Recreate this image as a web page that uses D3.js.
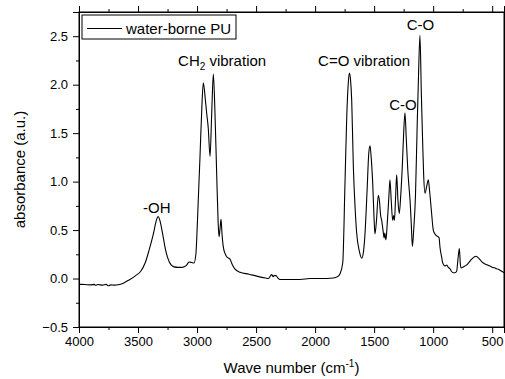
<!DOCTYPE html>
<html>
<head>
<meta charset="utf-8">
<script src="https://cdn.jsdelivr.net/npm/d3@7"></script>
<style>
    body { margin: 0; background: #fff; }
    svg text { font-family: "Liberation Sans", Arial, sans-serif; fill: #000; }
</style>
</head>
<body>
<div id="chart"></div>
<script>
// spectrum (wave number in cm-1, absorbance in a.u.)
const wavenumbers = [
    4000, 3950, 3900, 3870, 3860, 3840, 3800, 3770, 3750, 3730, 3700, 3660, 3620, 3576, 3520, 3477,
    3440, 3407, 3370, 3345, 3330, 3315, 3290, 3266, 3235, 3195, 3160, 3125, 3090, 3068, 3045, 3026,
    3010, 3003, 2990, 2975, 2960, 2947, 2930, 2918, 2905, 2890, 2876, 2862, 2848, 2834, 2822, 2814,
    2805, 2797, 2788, 2778, 2760, 2749, 2721, 2700, 2680, 2636, 2560, 2495, 2420, 2396, 2368, 2355,
    2348, 2331, 2315, 2297, 2200, 2128, 2043, 1900, 1846, 1810, 1789, 1766, 1747, 1732, 1720, 1710,
    1700, 1690, 1676, 1660, 1648, 1625, 1605, 1590, 1577, 1560, 1545, 1535, 1525, 1512, 1500, 1493,
    1480, 1465, 1455, 1445, 1436, 1425, 1415, 1410, 1400, 1390, 1375, 1366, 1355, 1343, 1335, 1328,
    1318, 1309, 1298, 1287, 1275, 1260, 1250, 1239, 1228, 1215, 1205, 1196, 1185, 1176, 1165, 1150,
    1135, 1125, 1112, 1100, 1090, 1080, 1069, 1055, 1041, 1030, 1015, 999, 985, 970, 957, 950,
    942, 928, 919, 900, 885, 872, 857, 843, 829, 815, 801, 790, 778, 770, 764, 745,
    716, 695, 674, 650, 637, 620, 600, 575, 540, 504, 470, 448, 420, 400
];
const absorbance = [
    -0.06, -0.062, -0.065, -0.06, -0.07, -0.062, -0.068, -0.06, -0.075, -0.065, -0.068, -0.062, -0.045, -0.015, 0.03, 0.075,
    0.16, 0.29, 0.46, 0.6, 0.64, 0.6, 0.45, 0.29, 0.17, 0.12, 0.115, 0.115, 0.135, 0.17, 0.165, 0.16,
    0.25, 0.4, 0.8, 1.26, 1.75, 2.02, 1.85, 1.7, 1.55, 1.26, 1.7, 2.11, 1.7, 1.09, 0.6, 0.43,
    0.52, 0.61, 0.45, 0.33, 0.25, 0.225, 0.2, 0.14, 0.1, 0.065, 0.045, 0.025, 0.005, 0.0, 0.04, 0.02,
    0.03, 0.03, 0.005, -0.01, -0.01, -0.01, 0.0, 0.0, 0.005, 0.02, 0.05, 0.16, 0.98, 1.67, 2.0, 2.12,
    2.05, 1.84, 1.15, 0.7, 0.47, 0.28, 0.21, 0.28, 0.47, 0.9, 1.3, 1.37, 1.25, 0.98, 0.6, 0.46,
    0.6, 0.86, 0.8, 0.65, 0.6, 0.5, 0.42, 0.47, 0.4, 0.55, 0.85, 1.02, 0.8, 0.6, 0.65, 0.6,
    0.85, 1.07, 0.8, 0.67, 0.85, 1.2, 1.5, 1.71, 1.45, 1.12, 0.95, 0.81, 0.55, 0.33, 0.5, 0.85,
    1.6, 2.05, 2.51, 1.9, 1.45, 1.05, 0.88, 0.95, 1.02, 0.9, 0.7, 0.5, 0.46, 0.44, 0.43, 0.42,
    0.32, 0.22, 0.16, 0.13, 0.14, 0.115, 0.1, 0.07, 0.06, 0.06, 0.075, 0.2, 0.31, 0.15, 0.11, 0.12,
    0.14, 0.17, 0.2, 0.225, 0.23, 0.215, 0.19, 0.16, 0.14, 0.12, 0.105, 0.095, 0.075, 0.06
];

// axis ticks
const xTicks = [4000, 3500, 3000, 2500, 2000, 1500, 1000, 500];
const xMinorTicks = [3750, 3250, 2750, 2250, 1750, 1250, 750];
const yTicks = [-0.5, 0.0, 0.5, 1.0, 1.5, 2.0, 2.5];
const yMinorTicks = [-0.25, 0.25, 0.75, 1.25, 1.75, 2.25, 2.75];

// peak annotations: text, start wave number, baseline absorbance, subscript part
const labelText = ["-OH", "CH", "C=O vibration", "C-O", "C-O"];
const labelSub = ["", "2", "", "", ""];
const labelRest = ["", " vibration", "", "", ""];
const labelWave = [3458, 3161, 1975, 1224, 1372];
const labelAbs = [0.68, 2.19, 2.19, 2.564, 1.739];

const seriesName = "water-borne PU";

class SpectrumVis {
    constructor(_parentElement) {
        this.parentElement = _parentElement;
        this.data = wavenumbers.map((w, i) => ({ wn: w, abs: absorbance[i] }));
        this.initVis();
    }

    initVis() {
        const vis = this;

        vis.margin = { top: 12, right: 1, bottom: 52, left: 79 };
        vis.width = 505 - vis.margin.left - vis.margin.right;
        vis.height = 379 - vis.margin.top - vis.margin.bottom;

        vis.svgRoot = d3.select(`#${vis.parentElement}`)
            .append("svg")
            .attr("width", 505)
            .attr("height", 379);

        vis.svg = vis.svgRoot.append("g")
            .attr("transform", `translate(${vis.margin.left},${vis.margin.top})`);

        // reversed wave number axis
        vis.xScale = d3.scaleLinear().domain([4000, 400]).range([0, vis.width]);
        vis.yScale = d3.scaleLinear().domain([-0.5, 2.75]).range([vis.height, 0]);

        const fmt = d3.format(".1f");

        // bottom axis (major + minor)
        vis.svg.append("g")
            .attr("class", "axis")
            .attr("transform", `translate(0,${vis.height})`)
            .call(d3.axisBottom(vis.xScale).tickValues(xTicks).tickSize(6).tickPadding(4).tickFormat(d3.format("d")));
        vis.svg.append("g")
            .attr("class", "axis")
            .attr("transform", `translate(0,${vis.height})`)
            .call(d3.axisBottom(vis.xScale).tickValues(xMinorTicks).tickSize(3).tickFormat(""));

        // top axis, ticks only
        vis.svg.append("g")
            .attr("class", "axis")
            .call(d3.axisTop(vis.xScale).tickValues(xTicks).tickSize(6).tickFormat(""));
        vis.svg.append("g")
            .attr("class", "axis")
            .call(d3.axisTop(vis.xScale).tickValues(xMinorTicks).tickSize(3).tickFormat(""));

        // left axis
        vis.svg.append("g")
            .attr("class", "axis")
            .call(d3.axisLeft(vis.yScale).tickValues(yTicks).tickSize(6).tickPadding(5).tickFormat(fmt));
        vis.svg.append("g")
            .attr("class", "axis")
            .call(d3.axisLeft(vis.yScale).tickValues(yMinorTicks.filter(v => v < 2.75)).tickSize(3).tickFormat(""));

        // right axis
        vis.svg.append("g")
            .attr("class", "axis")
            .attr("transform", `translate(${vis.width},0)`)
            .call(d3.axisRight(vis.yScale).tickValues(yTicks).tickSize(6).tickFormat(""));

        vis.svg.selectAll(".axis path").attr("stroke", "#000");
        vis.svg.selectAll(".axis line").attr("stroke", "#000");
        vis.svg.selectAll(".axis text").attr("font-size", "13px").attr("font-family", "Liberation Sans, Arial, sans-serif").attr("fill", "#000");

        // frame
        vis.svg.append("rect")
            .attr("x", 0)
            .attr("y", 0)
            .attr("width", vis.width)
            .attr("height", vis.height)
            .attr("fill", "none")
            .attr("stroke", "#000")
            .attr("stroke-width", 1);

        // axis titles
        const xTitle = vis.svg.append("text")
            .attr("text-anchor", "middle")
            .attr("x", vis.width / 2)
            .attr("y", vis.height + 46)
            .attr("font-size", "15px");
        xTitle.append("tspan").text("Wave number (cm");
        xTitle.append("tspan").attr("dy", -6).attr("font-size", "10px").text("-1");
        xTitle.append("tspan").attr("dy", 6).text(")");

        vis.svg.append("text")
            .attr("text-anchor", "middle")
            .attr("transform", "rotate(-90)")
            .attr("x", -vis.height / 2)
            .attr("y", -54)
            .attr("font-size", "15px")
            .text("absorbance (a.u.)");

        // legend
        const legend = vis.svg.append("g").attr("transform", "translate(3,3)");
        legend.append("rect")
            .attr("width", 154)
            .attr("height", 24)
            .attr("fill", "#fff")
            .attr("stroke", "#000");
        legend.append("line")
            .attr("x1", 5).attr("x2", 40)
            .attr("y1", 13.5).attr("y2", 13.5)
            .attr("stroke", "#000");
        legend.append("text")
            .attr("x", 44)
            .attr("y", 18.5)
            .attr("font-size", "15px")
            .text(seriesName);

        vis.updateVis();
    }

    updateVis() {
        const vis = this;

        const line = d3.line()
            .x(d => vis.xScale(d.wn))
            .y(d => vis.yScale(d.abs))
            .curve(d3.curveMonotoneX);

        vis.svg.append("path")
            .datum(vis.data)
            .attr("d", line)
            .attr("fill", "none")
            .attr("stroke", "#000")
            .attr("stroke-width", 1.1)
            .attr("stroke-linejoin", "round");

        // peak labels
        labelText.forEach((t, i) => {
            const txt = vis.svg.append("text")
                .attr("x", vis.xScale(labelWave[i]))
                .attr("y", vis.yScale(labelAbs[i]))
                .attr("font-size", "15px");
            txt.append("tspan").text(t);
            if (labelSub[i]) {
                txt.append("tspan").attr("dy", 4).attr("font-size", "10px").text(labelSub[i]);
                txt.append("tspan").attr("dy", -4).text(labelRest[i]);
            }
        });
    }
}

new SpectrumVis("chart");
</script>
</body>
</html>
